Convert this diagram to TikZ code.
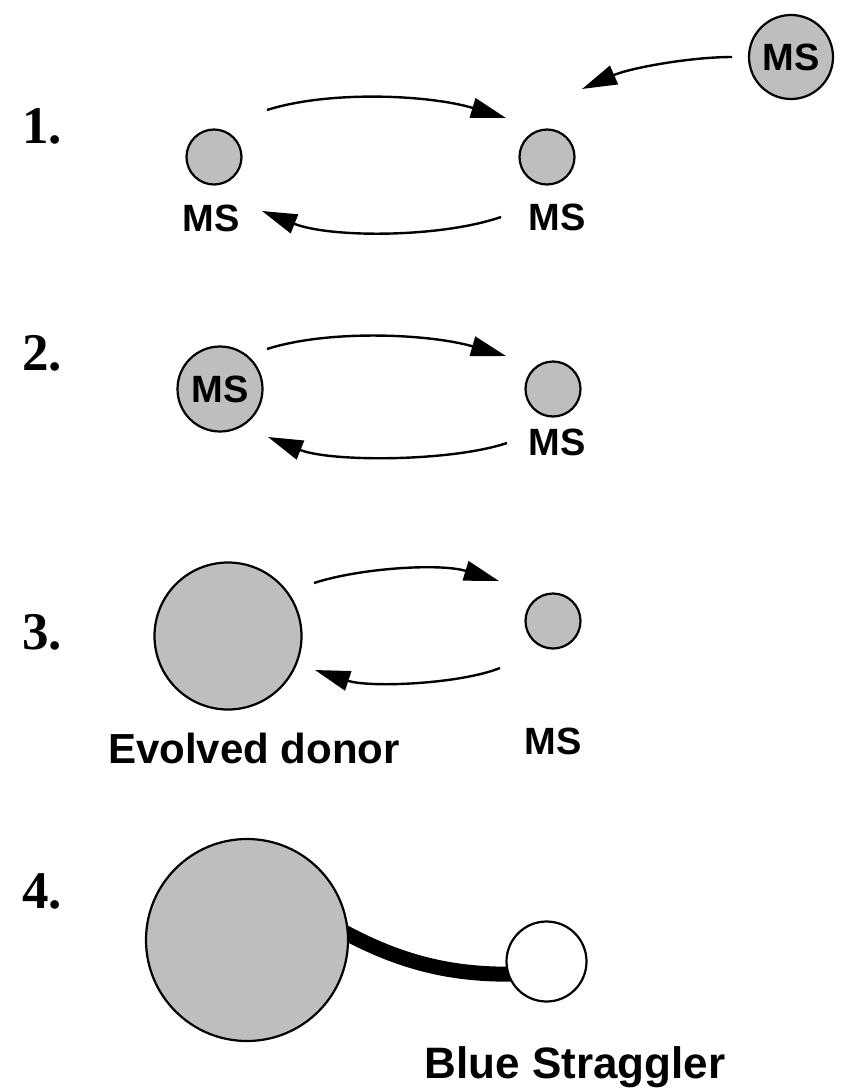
\documentclass[tikz,border=0pt]{standalone}
\usepackage{fontspec}
\newfontfamily\lblfont{Liberation Sans}
\newfontfamily\numfont{Liberation Serif}
\usetikzlibrary{arrows.meta}
\pgfdeclarelayer{background}
\pgfsetlayers{background,main}
\definecolor{stargray}{RGB}{190,190,190}
\tikzset{
  star/.style={circle, draw, line width=2.2pt, fill=stargray, inner sep=0pt,
    font=\lblfont\bfseries\fontsize{38}{38}\selectfont},
  bluestar/.style={star, fill=white},
  lbl/.style={font=\lblfont\bfseries\fontsize{38}{38}\selectfont, inner sep=0pt, anchor=base},
  num/.style={font=\numfont\bfseries\fontsize{53}{53}\selectfont, inner sep=0pt, anchor=base west},
  flow/.style={line width=2.4pt, -{Triangle[length=35pt,width=20pt]}},
  stream/.style={line width=15pt, line cap=butt}
}
\begin{document}
\begin{tikzpicture}[x=1pt,y=-1pt]
\useasboundingbox (0,0) rectangle (844,1092);

% ---- stage 1: two main-sequence stars and an incoming third star
\node[num] (n1) at (22,143) {1.};
\node[star, minimum size=55pt] (s1a) at (214,157) {};
\node[star, minimum size=55pt] (s1b) at (547,157) {};
\node[lbl] (l1a) at (211,231) {MS};
\node[lbl] (l1b) at (557,230) {MS};
\node[star, minimum size=84pt] (s1c) at (791,57) {MS};
\coordinate (a1s) at (267,110);  \coordinate (a1e) at (506,118);
\coordinate (b1s) at (501,217);  \coordinate (b1e) at (262,211);
\coordinate (c1s) at (732,57);   \coordinate (c1e) at (582,89);
\draw[flow] (a1s) .. controls (330,90) and (430,95) .. (a1e);
\draw[flow] (b1s) .. controls (440,238) and (330,238) .. (b1e);
\draw[flow] (c1s) .. controls (690,57) and (630,68) .. (c1e);

% ---- stage 2: merged star in a binary
\node[num] (n2) at (22,370) {2.};
\node[star, minimum size=85pt] (s2a) at (220,389) {MS};
\node[star, minimum size=55pt] (s2b) at (553,389) {};
\node[lbl] (l2b) at (557,455) {MS};
\coordinate (a2s) at (267,349);  \coordinate (a2e) at (506,356);
\coordinate (b2s) at (507,443);  \coordinate (b2e) at (268,437);
\draw[flow] (a2s) .. controls (330,329) and (430,334) .. (a2e);
\draw[flow] (b2s) .. controls (450,462) and (330,462) .. (b2e);

% ---- stage 3: the donor evolves
\node[num] (n3) at (22,649) {3.};
\node[star, minimum size=147pt] (s3a) at (228,636) {};
\node[star, minimum size=55pt] (s3b) at (553,621) {};
\node[lbl, font=\lblfont\bfseries\fontsize{42}{42}\selectfont] (l3a) at (254,763) {Evolved donor};
\node[lbl] (l3b) at (553,754) {MS};
\coordinate (a3s) at (314,583);  \coordinate (a3e) at (499,581);
\coordinate (b3s) at (500,668);  \coordinate (b3e) at (315,670);
\draw[flow] (a3s) .. controls (360,568) and (440,563) .. (a3e);
\draw[flow] (b3s) .. controls (460,684) and (370,688) .. (b3e);

% ---- stage 4: mass transfer onto the blue straggler
\node[num] (n4) at (22,908) {4.};
\node[star, minimum size=202pt] (s4a) at (247,940) {};
\node[bluestar, minimum size=80pt] (s4b) at (546.5,961.5) {};
\node[lbl, font=\lblfont\bfseries\fontsize{44}{44}\selectfont] (l4b) at (575,1078) {Blue Straggler};
\begin{pgfonlayer}{background}
\draw[stream, shorten <=-6pt, shorten >=-6pt]
  (s4a.3) .. controls (400,962) and (450,975) .. (s4b.198);
\end{pgfonlayer}
\end{tikzpicture}
\end{document}
